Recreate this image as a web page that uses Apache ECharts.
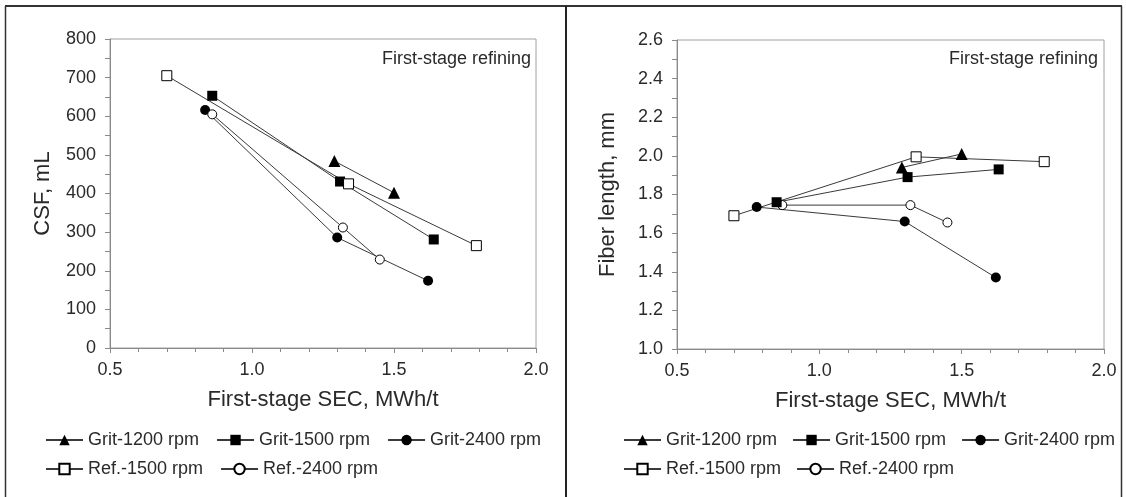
<!DOCTYPE html>
<html><head><meta charset="utf-8">
<script src="https://cdn.jsdelivr.net/npm/echarts@6/dist/echarts.min.js"></script>
<style>html,body{margin:0;padding:0;background:#fff}#c{width:1126px;height:497px}</style>
</head><body><div id="c"></div>
<script>
// ---- names ----
const seriesNames = ['Grit-1200 rpm', 'Grit-1500 rpm', 'Grit-2400 rpm', 'Ref.-1500 rpm', 'Ref.-2400 rpm'];
const xAxisName = 'First-stage SEC, MWh/t';
const yNameCSF = 'CSF, mL';
const yNameFiber = 'Fiber length, mm';
const noteText = 'First-stage refining';

// ---- axis ranges (tick labels) ----
const xTicks = [0.5, 1.0, 1.5, 2.0];
const csfTicks = [0, 100, 200, 300, 400, 500, 600, 700, 800];
const fiberTicks = [1.0, 1.2, 1.4, 1.6, 1.8, 2.0, 2.2, 2.4, 2.6];

// ---- CSF chart data ----
const csfGrit1200X = [1.29, 1.50];
const csfGrit1200Y = [484, 402];
const csfGrit1500X = [0.86, 1.31, 1.64];
const csfGrit1500Y = [653, 431, 281];
const csfGrit2400X = [0.835, 1.30, 1.62];
const csfGrit2400Y = [616, 286, 174];
const csfRef1500X = [0.70, 1.34, 1.79];
const csfRef1500Y = [705, 425, 265];
const csfRef2400X = [0.86, 1.32, 1.45];
const csfRef2400Y = [605, 312, 229];

// ---- Fiber length chart data ----
const fibGrit1200X = [1.29, 1.50];
const fibGrit1200Y = [1.94, 2.01];
const fibGrit1500X = [0.85, 1.31, 1.63];
const fibGrit1500Y = [1.76, 1.89, 1.93];
const fibGrit2400X = [0.78, 1.30, 1.62];
const fibGrit2400Y = [1.735, 1.66, 1.37];
const fibRef1500X = [0.70, 1.34, 1.79];
const fibRef1500Y = [1.69, 1.995, 1.97];
const fibRef2400X = [0.87, 1.32, 1.45];
const fibRef2400Y = [1.745, 1.745, 1.655];

// ---- styling ----
const symbols = ['triangle', 'rect', 'circle', 'rect', 'circle'];
const filled = [true, true, true, false, false];
const sizes = [12, 10, 10, 10, 9];
const txt = '#2a2a2a';
const axisGrey = '#8a8a8a';
const font = 'Liberation Sans, Arial, sans-serif';

function zip(xs, ys) { return xs.map((x, i) => [x, ys[i]]); }

function makeSeries(xsList, ysList, gi, order) {
  return order.map(i => ({
    type: 'line',
    name: seriesNames[i],
    xAxisIndex: gi, yAxisIndex: gi,
    data: zip(xsList[i], ysList[i]),
    symbol: symbols[i],
    symbolSize: sizes[i],
    lineStyle: { color: '#3a3a3a', width: 1 },
    itemStyle: filled[i] ? { color: '#000', borderColor: '#000', borderWidth: 0 }
                         : { color: '#fff', borderColor: '#000', borderWidth: 1 },
    emphasis: { disabled: true },
    z: 2
  }));
}

const csfX = [csfGrit1200X, csfGrit1500X, csfGrit2400X, csfRef1500X, csfRef2400X];
const csfY = [csfGrit1200Y, csfGrit1500Y, csfGrit2400Y, csfRef1500Y, csfRef2400Y];
const fibX = [fibGrit1200X, fibGrit1500X, fibGrit2400X, fibRef1500X, fibRef2400X];
const fibY = [fibGrit1200Y, fibGrit1500Y, fibGrit2400Y, fibRef1500Y, fibRef2400Y];

function xAxisCfg(gi) {
  return {
    type: 'value', gridIndex: gi,
    min: xTicks[0], max: xTicks[xTicks.length - 1], interval: xTicks[1] - xTicks[0],
    name: xAxisName, nameLocation: 'middle', nameGap: 41,
    nameTextStyle: { fontSize: 22, color: txt, fontFamily: font },
    axisLine: { show: true, onZero: false, lineStyle: { color: axisGrey, width: 1 } },
    axisTick: { show: true, inside: false, length: 5, lineStyle: { color: axisGrey } },
    minorTick: { show: true, splitNumber: 5, length: 4, lineStyle: { color: axisGrey } },
    axisLabel: { fontSize: 18, color: txt, fontFamily: font, margin: 13, formatter: v => v.toFixed(1) },
    splitLine: { show: false }
  };
}
function yAxisCfg(gi, ticks, name, gap, dec) {
  return {
    type: 'value', gridIndex: gi,
    min: ticks[0], max: ticks[ticks.length - 1], interval: +(ticks[1] - ticks[0]).toFixed(3),
    name: name, nameLocation: 'middle', nameGap: gap,
    nameTextStyle: { fontSize: 22, color: txt, fontFamily: font },
    axisLine: { show: true, onZero: false, lineStyle: { color: axisGrey, width: 1 } },
    axisTick: { show: true, inside: false, length: 5, lineStyle: { color: axisGrey } },
    minorTick: { show: true, splitNumber: 2, length: 5, lineStyle: { color: axisGrey } },
    axisLabel: { fontSize: 18, color: txt, fontFamily: font, margin: 14, formatter: v => v.toFixed(dec) },
    splitLine: { show: false }
  };
}

function legendCfg(left, top, data, gap) {
  return {
    left: left, top: top, orient: 'horizontal', itemGap: gap,
    itemWidth: 37, itemHeight: 13, padding: 0,
    data: data,
    textStyle: { fontSize: 18, color: txt, fontFamily: font },
    selectedMode: false
  };
}

const chart = echarts.init(document.getElementById('c'), null, { renderer: 'canvas' });
chart.setOption({
  animation: false,
  backgroundColor: '#fff',
  grid: [
    { left: 110, top: 39, width: 426, height: 309, show: true, borderColor: '#a0a0a0', borderWidth: 1, backgroundColor: 'transparent' },
    { left: 677, top: 40, width: 427, height: 309, show: true, borderColor: '#a0a0a0', borderWidth: 1, backgroundColor: 'transparent' }
  ],
  xAxis: [xAxisCfg(0), xAxisCfg(1)],
  yAxis: [yAxisCfg(0, csfTicks, yNameCSF, 56, 0), yAxisCfg(1, fiberTicks, yNameFiber, 58, 1)],
  legend: [
    legendCfg(45, 431, seriesNames.slice(0, 3), 17),
    legendCfg(45, 460, seriesNames.slice(3), 17),
    legendCfg(623, 431, seriesNames.slice(0, 3), 15),
    legendCfg(623, 460, seriesNames.slice(3), 15)
  ],
  graphic: [
    { type: 'text', x: 531, y: 59, style: { text: noteText, fontSize: 18, fill: txt, fontFamily: font, align: 'right', verticalAlign: 'middle' } },
    { type: 'text', x: 1098, y: 59, style: { text: noteText, fontSize: 18, fill: txt, fontFamily: font, align: 'right', verticalAlign: 'middle' } },
    { type: 'line', shape: { x1: 5, y1: 6, x2: 1122, y2: 6 }, style: { stroke: '#333', lineWidth: 2 } },
    { type: 'line', shape: { x1: 5.5, y1: 6, x2: 5.5, y2: 497 }, style: { stroke: '#333', lineWidth: 1.5 } },
    { type: 'line', shape: { x1: 566, y1: 6, x2: 566, y2: 497 }, style: { stroke: '#222', lineWidth: 2 } },
    { type: 'line', shape: { x1: 1121.5, y1: 6, x2: 1121.5, y2: 497 }, style: { stroke: '#333', lineWidth: 1.5 } }
  ],
  series: [].concat(
    makeSeries(csfX, csfY, 0, [0, 1, 2, 3, 4]),
    makeSeries(fibX, fibY, 1, [4, 0, 1, 2, 3])
  )
});
</script>
</body></html>
